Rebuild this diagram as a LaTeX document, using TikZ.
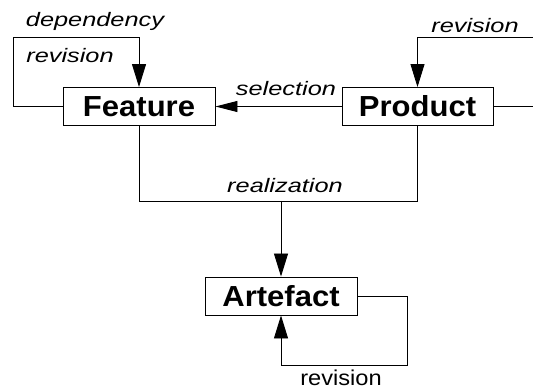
\documentclass[tikz,border=0pt]{standalone}
\usepackage{fontspec}
\setmainfont{Liberation Sans}
\newfontfamily\boxfont[FakeStretch=1.07]{Liberation Sans}
\newfontfamily\lblfont[FakeStretch=1.3]{Liberation Sans}
\newfontfamily\uprfont[FakeStretch=1.1]{Liberation Sans}
\usetikzlibrary{arrows.meta}
\begin{document}
\begin{tikzpicture}[x=1pt,y=-1pt,
  box/.style={draw=black,line width=0.9pt,fill=white,minimum height=38pt,inner sep=0pt,
    font=\boxfont\bfseries\fontsize{29}{30}\selectfont},
  conn/.style={draw=black,line width=0.9pt},
  varr/.style={conn,-{Triangle[length=23pt,width=14pt]}},
  harr/.style={conn,-{Triangle[length=22pt,width=11pt]}},
  lbl/.style={anchor=base,inner sep=0pt,font=\lblfont\itshape\fontsize{19.5}{21}\selectfont},
  ulbl/.style={anchor=base,inner sep=0pt,font=\uprfont\fontsize{21.5}{23}\selectfont}]
\useasboundingbox (0,0) rectangle (533,390);
\node[box,minimum width=152pt] (F) at (139,106.5) {Feature};
\node[box,minimum width=151pt] (P) at (417.5,106.5) {Product};
\node[box,minimum width=152pt] (A) at (281,296) {Artefact};
\coordinate (fl) at (13,37);
\coordinate (pr) at (533,37);
\coordinate (pe) at (533,106.5);
\coordinate (jl) at (139,201);
\coordinate (jr) at (417.5,201);
\coordinate (jm) at (281,201);
\coordinate (ar) at (407,365);
\draw[varr] (F.west) -| (fl) -| (F.north);
\draw[varr] (pr) -| (P.north);
\draw[conn] (P.east) -- (pe);
\draw[harr] (P.west) -- (F.east);
\draw[conn] (F.south) -- (jl) -- (jr) -- (P.south);
\draw[varr] (jm) -- (A.north);
\draw[varr] (A.east) -| (ar) -| (A.south);
\node[lbl] (ldep) at (95,27) {dependency};
\node[lbl] (lrev1) at (70,63) {revision};
\node[lbl] (lrev2) at (475,33) {revision};
\node[lbl] (lsel) at (286,96) {selection};
\node[lbl] (lrea) at (285,193) {realization};
\node[ulbl] (lrev3) at (341,385) {revision};
\end{tikzpicture}
\end{document}
